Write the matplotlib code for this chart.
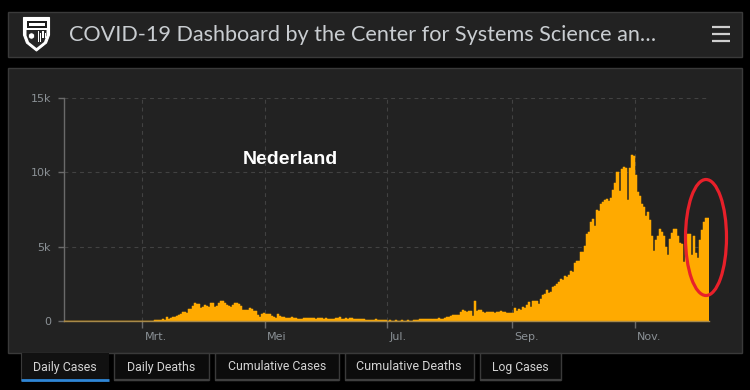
import matplotlib
matplotlib.use("Agg")
import matplotlib.pyplot as plt
import matplotlib.transforms as mtransforms
from matplotlib.patches import Rectangle, Ellipse, Polygon, Circle
import pandas as pd

# ---------------- data ----------------
start_date = "2020-01-22"
daily_cases = [
    0, 0, 0, 0, 0, 0, 0, 0, 0, 0,
    0, 0, 0, 0, 0, 0, 0, 0, 0, 0,
    0, 0, 0, 0, 0, 0, 0, 0, 0, 0,
    0, 0, 0, 0, 0, 0, 1, 0, 2, 8,
    6, 5, 14, 50, 50, 60, 70, 60, 65, 130,
    90, 280, 180, 220, 270, 270, 340, 400, 490, 600,
    600, 580, 830, 850, 1030, 1210, 1170, 1170, 920, 990,
    1080, 1050, 960, 1230, 1210, 960, 1030, 1210, 1345, 1345,
    1255, 1100, 1030, 960, 1100, 1210, 1210, 1170, 1050, 760,
    760, 760, 900, 850, 720, 720, 400, 270, 490, 540,
    470, 470, 470, 340, 290, 250, 470, 380, 290, 290,
    200, 200, 250, 290, 250, 200, 160, 160, 160, 200,
    250, 220, 200, 200, 200, 180, 200, 200, 200, 160,
    220, 160, 160, 135, 160, 200, 220, 270, 160, 135,
    200, 160, 200, 200, 160, 130, 130, 130, 130, 130,
    90, 90, 90, 90, 90, 130, 70, 70, 70, 70,
    70, 50, 60, 50, 50, 60, 50, 50, 60, 50,
    50, 60, 50, 50, 60, 110, 70, 130, 130, 130,
    180, 160, 130, 160, 180, 130, 200, 180, 130, 220,
    270, 310, 360, 400, 400, 450, 450, 600, 760, 700,
    650, 670, 670, 380, 1350, 720, 740, 740, 650, 580,
    650, 650, 600, 600, 560, 650, 600, 670, 600, 600,
    540, 540, 540, 540, 900, 720, 810, 760, 940, 900,
    1080, 1280, 990, 1370, 1370, 1370, 1140, 1480, 1750, 1820,
    2110, 1930, 2000, 2310, 2380, 2490, 2620, 2850, 2760, 3050,
    2960, 3120, 3390, 3340, 3900, 4060, 4060, 4640, 4640, 5070,
    5870, 6010, 6640, 6860, 6400, 7490, 7440, 7850, 8030, 8140,
    8230, 8070, 8250, 8830, 9280, 10020, 8720, 10220, 10360, 10310,
    8160, 10300, 11190, 11100, 9840, 8680, 8390, 7870, 7710, 7040,
    7310, 6820, 5740, 4750, 5470, 5700, 6190, 6010, 5700, 4960,
    4460, 5560, 5960, 6190, 6190, 5700, 5250, 5200, 4010, 5300,
    5850, 5850, 4460, 5740, 4570, 4240, 5470, 6100, 6700, 6950,
    6950,
]
y_ticks = [0, 5000, 10000, 15000]
y_tick_labels = ["0", "5k", "10k", "15k"]
month_ticks = ["2020-03-01", "2020-05-01", "2020-07-01", "2020-09-01", "2020-11-01"]
month_labels = ["Mrt.", "Mei", "Jul.", "Sep.", "Nov."]
tab_labels = ["Daily Cases", "Daily Deaths", "Cumulative Cases", "Cumulative Deaths", "Log Cases"]
title_text = "COVID-19 Dashboard by the Center for Systems Science an\u2026"
country = "Nederland"

# ---------------- figure ----------------
W, H = 750, 390
fig = plt.figure(figsize=(7.5, 3.9), dpi=100, facecolor="black")
renderer = fig.canvas.get_renderer()


def fit_width(t, target_w):
    bb = t.get_window_extent(renderer=renderer)
    t.set_fontsize(t.get_fontsize() * target_w / bb.width)
    return t


bg = fig.add_axes([0, 0, 1, 1], zorder=0)
bg.set_xlim(0, W)
bg.set_ylim(H, 0)
bg.axis("off")

panel_c = "#222222"
edge_c = "#3a3a3a"
# header panel
bg.add_patch(Rectangle((7.5, 11.5), 734, 45, facecolor=panel_c, edgecolor=edge_c, lw=1))
# chart panel
bg.add_patch(Rectangle((7.5, 67.5), 734, 285, facecolor=panel_c, edgecolor=edge_c, lw=1))

# logo (simplified shield)
shield = Polygon([(23.5, 17.5), (49.5, 17.5), (49.5, 35), (46.5, 43), (36.5, 51), (26.5, 43), (23.5, 35)],
                 closed=True, facecolor="white", edgecolor="white", lw=0.8)
bg.add_patch(shield)
bg.add_patch(Rectangle((26.5, 20.5), 20, 7.5, facecolor="#1c1c1c", edgecolor="none"))
bg.add_patch(Rectangle((28.5, 22.5), 16, 3.5, facecolor="white", edgecolor="none"))
bg.add_patch(Polygon([(26.5, 30), (46.5, 30), (46.5, 35.5), (44, 42), (36.5, 48), (29, 42), (26.5, 35.5)],
                     closed=True, facecolor="#262626", edgecolor="none"))
bg.add_patch(Circle((31.5, 36), 3.2, facecolor="white", edgecolor="#222222", lw=0.6))
for k in range(4):
    bg.add_patch(Rectangle((38 + k * 2.2, 31 + (k % 2) * 2), 1.2, 11 - k * 2, facecolor="white", edgecolor="none"))

# title
tt = bg.text(69, 35, title_text, color="#c9cdd1", fontsize=15, family="Lato",
             fontweight="normal", va="center", ha="left")
fit_width(tt, 588)

# hamburger
for yy in (27, 34, 41):
    bg.plot([712, 730], [yy, yy], color="#cfcfcf", lw=1.6, solid_capstyle="butt")

# tabs
tab_boxes = [(20.5, 108.5), (114, 209), (214.5, 339), (344.5, 474), (479.5, 561)]
for i, (lab, (x0, x1)) in enumerate(zip(tab_labels, tab_boxes)):
    if i == 0:
        bg.add_patch(Rectangle((x0, 353), x1 - x0, 27, facecolor="#111111", edgecolor="none"))
        bg.plot([x0, x0], [353, 380], color=edge_c, lw=0.8)
        bg.plot([x0, x1], [379.5, 379.5], color="#2f86d6", lw=2.0, solid_capstyle="butt")
    else:
        bg.add_patch(Rectangle((x0, 353), x1 - x0, 27, facecolor="#0c0c0c", edgecolor=edge_c, lw=1))
        bg.plot([x0, x1], [380, 380], color="#3f3f3f", lw=1.6, solid_capstyle="butt")
    t = bg.text((x0 + x1) / 2, 367, lab, color="#d4d4d4", fontsize=9, family="Roboto",
                va="center", ha="center")
    tw = {0: 64, 1: 69, 2: 99, 3: 106, 4: 57}[i]
    fit_width(t, tw)

# ---------------- chart ----------------
ax_l, ax_r, ax_t, ax_b = 63.5, 709.0, 98.0, 321.3
ax = fig.add_axes([ax_l / W, (H - ax_b) / H, (ax_r - ax_l) / W, (ax_b - ax_t) / H], zorder=2)
ax.set_facecolor("none")
dates = pd.date_range(start_date, periods=len(daily_cases), freq="D")
ax.bar(dates, daily_cases, width=1.0, align="edge", color="#ffaa00", edgecolor="#ffaa00",
       linewidth=0.35, zorder=3)
ax.set_xlim(dates[0], dates[-1] + pd.Timedelta(days=1))
ax.set_ylim(0, 15000)

mt = pd.to_datetime(month_ticks)
ax.set_xticks(mt)
ax.set_xticklabels(month_labels)
ax.set_yticks(y_ticks)
ax.set_yticklabels(y_tick_labels)

grid_c = "#424242"
for v in y_ticks[1:]:
    ax.axhline(v, color=grid_c, lw=0.8, ls=(0, (3.5, 3.5)), zorder=1)
for d in mt:
    ax.axvline(d, color=grid_c, lw=0.8, ls=(0, (3.5, 3.5)), zorder=1)

for s in ("top", "right"):
    ax.spines[s].set_visible(False)
ax.spines["left"].set_color("#6a6a6a")
ax.spines["left"].set_linewidth(1.0)
ax.spines["bottom"].set_color("#a88a4a")
ax.spines["bottom"].set_linewidth(1.0)
ax.spines["bottom"].set_zorder(4)

lab_c = "#8b9196"
ax.tick_params(axis="y", length=4, width=1, color="#6a6a6a", pad=5, labelsize=8, labelcolor=lab_c)
ax.tick_params(axis="x", length=5, width=1, color="#6a6a6a", pad=3, labelsize=8, labelcolor=lab_c)
off = mtransforms.ScaledTranslation(2.5 / 100, 0, fig.dpi_scale_trans)
for lbl in ax.get_xticklabels():
    lbl.set_horizontalalignment("left")
    lbl.set_transform(lbl.get_transform() + off)

# country label
ct = bg.text(290.5, 160, country, color="white", fontsize=13, family="Liberation Sans",
             fontweight="bold", va="center", ha="center", zorder=5)
fit_width(ct, 95)

# ---------------- overlay (red annotation ellipse) ----------------
ov = fig.add_axes([0, 0, 1, 1], zorder=10)
ov.set_xlim(0, W)
ov.set_ylim(H, 0)
ov.axis("off")
ov.patch.set_alpha(0)
ov.add_patch(Ellipse((706, 237.5), 41, 116, facecolor="none", edgecolor="#e8202a", lw=2.3))

fig.savefig("out.png", dpi=100, facecolor="black")
